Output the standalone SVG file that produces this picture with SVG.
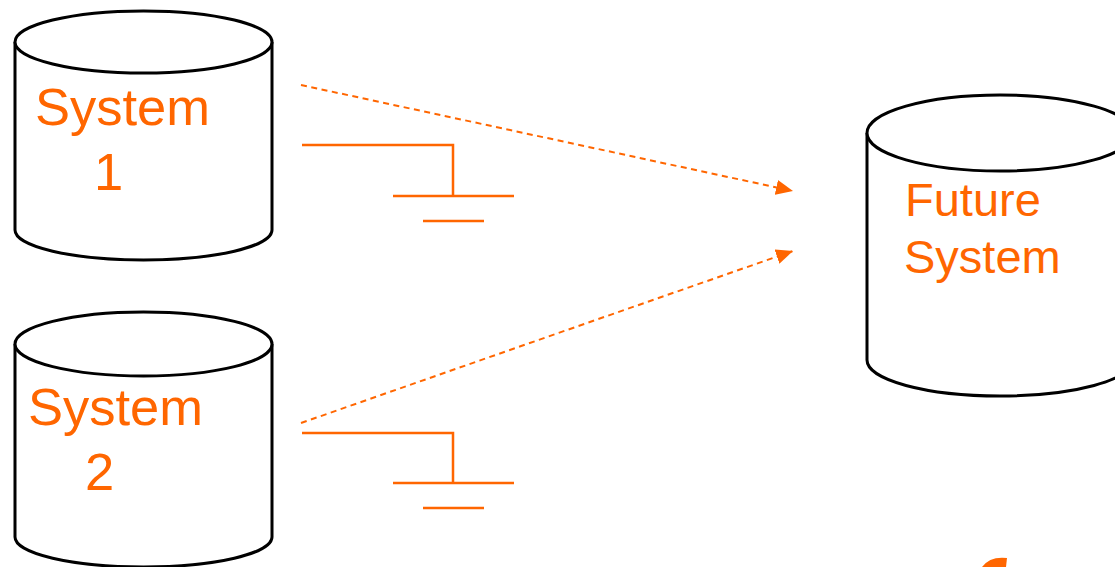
<svg xmlns="http://www.w3.org/2000/svg" width="1115" height="567" viewBox="0 0 1115 567">
<style>
.cyl{fill:#fff;stroke:#000;stroke-width:3}
.lbl{fill:#FF6600;font-family:"Liberation Sans",Arial,sans-serif}
.gnd{fill:none;stroke:#FF6600;stroke-width:2.5}
.dash{fill:none;stroke:#FF6600;stroke-width:2;stroke-dasharray:6 4.5}
</style>
<defs>
<marker id="ah" markerWidth="17" markerHeight="15" refX="17" refY="7.5" orient="auto" markerUnits="userSpaceOnUse">
<path d="M0,0 L17,7.5 L0,15 Z" fill="#FF6600"/>
</marker>
</defs>
<rect width="1115" height="567" fill="#fff"/>
<g id="system1">
<path class="cyl" d="M15,42 L15,230 A128.5,30 0 0 0 272,230 L272,42"/>
<ellipse class="cyl" cx="143.5" cy="42" rx="128.5" ry="31"/>
<text class="lbl" x="35" y="125" font-size="52.5">System</text>
<text class="lbl" x="94" y="190" font-size="52.5">1</text>
</g>
<g id="system2">
<path class="cyl" d="M15,344 L15,537 A128.5,30 0 0 0 272,537 L272,344"/>
<ellipse class="cyl" cx="143.5" cy="344" rx="128.5" ry="32"/>
<text class="lbl" x="28" y="425" font-size="52.5">System</text>
<text class="lbl" x="85" y="490" font-size="52.5">2</text>
</g>
<g id="future">
<path class="cyl" d="M867,133 L867,360 A133,36 0 0 0 1133,360 L1133,133"/>
<ellipse class="cyl" cx="1000" cy="133" rx="133" ry="38"/>
<text class="lbl" x="905" y="216" font-size="47">Future</text>
<text class="lbl" x="904" y="273" font-size="47">System</text>
</g>
<g id="ground1">
<polyline class="gnd" points="302,145 453,145 453,196"/>
<line class="gnd" x1="393" y1="196" x2="514" y2="196"/>
<line class="gnd" x1="423" y1="221" x2="484" y2="221"/>
</g>
<g id="ground2">
<polyline class="gnd" points="302,433 453,433 453,483"/>
<line class="gnd" x1="393" y1="483" x2="514" y2="483"/>
<line class="gnd" x1="423" y1="508" x2="484" y2="508"/>
</g>
<g id="connectors">
<line class="dash" x1="301" y1="85" x2="793" y2="191" marker-end="url(#ah)"/>
<line class="dash" x1="301" y1="423" x2="793" y2="251" marker-end="url(#ah)"/>
</g>
<path d="M982,567 Q990,556 1007,558 L1006,567 Z" fill="#FF6600"/>
</svg>
